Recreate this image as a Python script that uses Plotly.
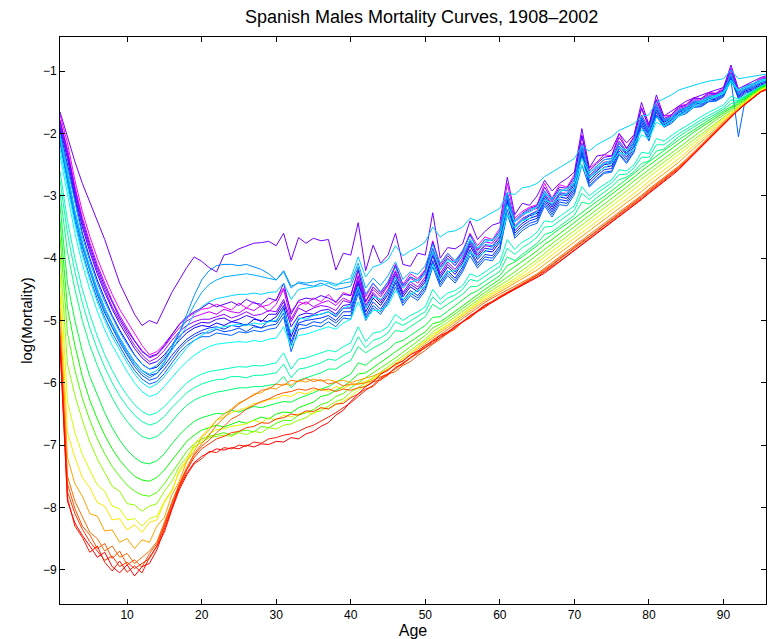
import colorsys
import plotly.graph_objects as go

# x position of each age group (age 0 plotted at 1, as in the original figure)
age_index = list(range(1, 97))
x_ticks = [10, 20, 30, 40, 50, 60, 70, 80, 90]
y_ticks = [-9, -8, -7, -6, -5, -4, -3, -2, -1]

years = [1908, 1912, 1915, 1918, 1920, 1922, 1926, 1930, 1932, 1934, 1937, 1939, 1942, 1944, 1946,
         1950, 1952, 1955, 1960, 1965, 1970, 1975, 1980, 1985, 1990, 1994, 1996, 1998, 2000, 2002]

m1908 = [-1.70, -2.15, -2.75, -3.25, -3.65, -4.00, -4.30, -4.58, -4.82, -5.02, -5.22, -5.40, -5.55, -5.50, -5.38, -5.22, -5.07, -4.96, -4.88, -4.82,
         -4.80, -4.74, -4.79, -4.83, -4.72, -4.80, -4.70, -4.78, -4.75, -4.66, -4.48, -4.86, -4.70, -4.74, -4.64, -4.70, -4.58, -4.72, -4.55, -4.60,
         -4.20, -4.62, -4.40, -4.55, -4.38, -4.10, -4.42, -4.25, -4.33, -4.18, -3.72, -4.10, -3.92, -4.06, -3.88, -3.60, -3.80, -3.66, -3.70, -3.52,
         -2.80, -3.36, -3.25, -3.18, -3.14, -2.80, -3.04, -2.82, -2.86, -2.66, -2.02, -2.56, -2.46, -2.34, -2.36, -2.00, -2.24, -2.04, -1.58, -1.86,
         -1.45, -1.72, -1.70, -1.56, -1.53, -1.42, -1.44, -1.34, -1.35, -1.26, -0.95, -1.32, -1.22, -1.20, -1.11, -1.09]
m1912 = [-1.78, -2.25, -2.85, -3.35, -3.75, -4.10, -4.40, -4.68, -4.92, -5.12, -5.32, -5.48, -5.60, -5.55, -5.42, -5.26, -5.12, -5.01, -4.94, -4.90,
         -4.86, -4.90, -4.82, -4.86, -4.88, -4.80, -4.84, -4.76, -4.86, -4.74, -4.50, -4.98, -4.76, -4.70, -4.78, -4.72, -4.68, -4.76, -4.64, -4.70,
         -4.28, -4.70, -4.50, -4.62, -4.44, -4.20, -4.48, -4.32, -4.40, -4.24, -3.85, -4.18, -4.00, -4.12, -3.94, -3.70, -3.88, -3.74, -3.76, -3.60,
         -2.95, -3.42, -3.32, -3.24, -3.20, -2.92, -3.10, -2.90, -2.92, -2.74, -2.15, -2.64, -2.52, -2.42, -2.40, -2.12, -2.28, -2.10, -1.70, -1.92,
         -1.52, -1.78, -1.72, -1.60, -1.56, -1.46, -1.46, -1.38, -1.37, -1.30, -1.02, -1.34, -1.25, -1.22, -1.14, -1.11]
m1915 = [-1.85, -2.35, -2.95, -3.45, -3.85, -4.20, -4.50, -4.78, -5.00, -5.20, -5.40, -5.55, -5.66, -5.60, -5.48, -5.32, -5.18, -5.08, -5.02, -4.98,
         -4.98, -4.94, -4.90, -4.96, -4.92, -4.86, -4.92, -4.90, -4.84, -4.86, -4.66, -5.02, -4.80, -4.86, -4.80, -4.76, -4.78, -4.84, -4.68, -4.72,
         -4.30, -4.76, -4.55, -4.68, -4.50, -4.22, -4.55, -4.38, -4.46, -4.30, -3.90, -4.24, -4.06, -4.18, -4.00, -3.72, -3.95, -3.80, -3.82, -3.66,
         -3.08, -3.48, -3.36, -3.30, -3.24, -2.96, -3.14, -2.95, -2.96, -2.78, -2.28, -2.68, -2.56, -2.46, -2.44, -2.16, -2.31, -2.14, -1.74, -1.96,
         -1.55, -1.80, -1.74, -1.62, -1.58, -1.48, -1.48, -1.40, -1.39, -1.32, -1.04, -1.36, -1.27, -1.24, -1.16, -1.13]
m1918 = [-1.65, -2.05, -2.45, -2.80, -3.10, -3.40, -3.70, -4.05, -4.40, -4.65, -4.90, -5.08, -5.00, -5.05, -4.80, -4.55, -4.35, -4.15, -3.98, -4.05,
         -4.15, -4.22, -3.95, -3.92, -3.85, -3.80, -3.76, -3.75, -3.73, -3.80, -3.60, -4.03, -3.67, -3.76, -3.68, -3.72, -3.70, -4.19, -3.92, -3.95,
         -3.43, -4.20, -3.79, -4.08, -3.95, -3.60, -4.10, -4.13, -3.92, -3.95, -3.27, -4.00, -3.83, -3.85, -3.77, -3.40, -3.70, -3.57, -3.47, -3.43,
         -2.70, -3.30, -3.12, -3.15, -3.00, -2.75, -2.92, -2.80, -2.72, -2.62, -1.92, -2.55, -2.36, -2.34, -2.26, -2.00, -2.15, -2.02, -1.50, -1.86,
         -1.38, -1.72, -1.64, -1.57, -1.48, -1.43, -1.38, -1.34, -1.30, -1.26, -0.90, -1.28, -1.22, -1.16, -1.10, -1.06]
m1920 = [-1.80, -2.30, -2.90, -3.40, -3.80, -4.15, -4.45, -4.72, -4.96, -5.16, -5.34, -5.50, -5.58, -5.54, -5.40, -5.22, -5.06, -4.94, -4.86, -4.80,
         -4.72, -4.78, -4.74, -4.70, -4.76, -4.66, -4.72, -4.74, -4.64, -4.68, -4.40, -4.90, -4.68, -4.64, -4.66, -4.60, -4.64, -4.70, -4.58, -4.60,
         -4.18, -4.70, -4.46, -4.58, -4.42, -4.12, -4.44, -4.30, -4.36, -4.20, -3.74, -4.14, -3.96, -4.08, -3.90, -3.62, -3.86, -3.70, -3.72, -3.56,
         -2.95, -3.40, -3.28, -3.20, -3.16, -2.86, -3.06, -2.86, -2.88, -2.70, -2.04, -2.60, -2.48, -2.38, -2.36, -2.06, -2.24, -2.06, -1.60, -1.90,
         -1.46, -1.76, -1.70, -1.58, -1.54, -1.44, -1.44, -1.36, -1.36, -1.29, -0.97, -1.33, -1.24, -1.21, -1.13, -1.10]
m1922 = [-1.90, -2.40, -3.00, -3.50, -3.90, -4.25, -4.55, -4.82, -5.05, -5.25, -5.45, -5.60, -5.70, -5.66, -5.55, -5.40, -5.25, -5.15, -5.08, -5.03,
         -5.04, -4.98, -4.96, -5.02, -4.98, -4.92, -4.96, -5.02, -4.90, -4.90, -4.70, -5.10, -4.92, -4.88, -4.90, -4.84, -4.82, -4.90, -4.76, -4.74,
         -4.36, -4.80, -4.58, -4.72, -4.54, -4.26, -4.58, -4.42, -4.50, -4.34, -3.90, -4.28, -4.10, -4.22, -4.04, -3.76, -3.98, -3.84, -3.86, -3.70,
         -3.00, -3.52, -3.40, -3.32, -3.28, -3.00, -3.18, -2.98, -3.00, -2.82, -2.22, -2.72, -2.60, -2.50, -2.48, -2.20, -2.34, -2.16, -1.74, -1.98,
         -1.58, -1.82, -1.76, -1.64, -1.60, -1.50, -1.50, -1.42, -1.41, -1.34, -1.06, -1.38, -1.29, -1.26, -1.18, -1.15]
m1926 = [-1.95, -2.50, -3.10, -3.60, -4.00, -4.35, -4.65, -4.92, -5.15, -5.35, -5.55, -5.70, -5.78, -5.75, -5.62, -5.46, -5.32, -5.20, -5.12, -5.08,
         -5.10, -5.04, -5.08, -5.02, -5.04, -5.08, -4.98, -5.00, -5.02, -4.94, -4.76, -5.26, -4.98, -4.94, -4.92, -4.90, -4.86, -4.94, -4.80, -4.80,
         -4.40, -4.86, -4.64, -4.76, -4.58, -4.30, -4.62, -4.46, -4.54, -4.38, -3.96, -4.32, -4.14, -4.26, -4.08, -3.80, -4.02, -3.88, -3.90, -3.74,
         -3.06, -3.56, -3.44, -3.36, -3.32, -3.04, -3.22, -3.02, -3.04, -2.86, -2.26, -2.76, -2.64, -2.54, -2.52, -2.24, -2.38, -2.20, -1.78, -2.02,
         -1.62, -1.84, -1.78, -1.66, -1.62, -1.52, -1.52, -1.44, -1.43, -1.36, -1.08, -1.40, -1.31, -1.28, -1.20, -1.17]
m1930 = [-2.05, -2.65, -3.25, -3.75, -4.15, -4.50, -4.80, -5.05, -5.28, -5.48, -5.66, -5.80, -5.88, -5.85, -5.72, -5.56, -5.42, -5.30, -5.22, -5.16,
         -5.12, -5.10, -5.14, -5.08, -5.10, -5.06, -5.08, -5.12, -5.00, -5.02, -4.80, -5.34, -5.04, -5.00, -4.98, -4.96, -4.92, -5.00, -4.86, -4.86,
         -4.46, -4.92, -4.70, -4.82, -4.64, -4.36, -4.68, -4.52, -4.60, -4.44, -4.04, -4.38, -4.20, -4.32, -4.14, -3.86, -4.08, -3.94, -3.96, -3.80,
         -3.12, -3.60, -3.48, -3.40, -3.36, -3.08, -3.26, -3.06, -3.08, -2.90, -2.30, -2.80, -2.68, -2.58, -2.56, -2.28, -2.42, -2.24, -1.82, -2.06,
         -1.66, -1.86, -1.80, -1.68, -1.64, -1.54, -1.54, -1.46, -1.45, -1.38, -1.10, -1.42, -1.33, -1.30, -1.22, -1.19]
m1932 = [-2.10, -2.72, -3.32, -3.82, -4.22, -4.58, -4.88, -5.12, -5.35, -5.55, -5.74, -5.88, -5.96, -5.92, -5.78, -5.62, -5.46, -5.34, -5.26, -5.20,
         -5.20, -5.14, -5.18, -5.16, -5.12, -5.18, -5.10, -5.12, -5.08, -5.06, -4.88, -5.40, -5.06, -5.08, -5.02, -5.04, -4.96, -5.04, -4.92, -4.92,
         -4.50, -4.96, -4.76, -4.86, -4.68, -4.40, -4.72, -4.56, -4.64, -4.48, -4.08, -4.42, -4.24, -4.36, -4.18, -3.90, -4.12, -3.98, -4.00, -3.84,
         -3.30, -3.64, -3.52, -3.44, -3.40, -3.12, -3.30, -3.10, -3.12, -2.94, -2.34, -2.84, -2.72, -2.62, -2.60, -2.32, -2.46, -2.28, -1.86, -2.10,
         -1.70, -1.88, -1.82, -1.70, -1.66, -1.56, -1.56, -1.48, -1.47, -1.40, -1.12, -1.44, -1.35, -1.31, -1.23, -1.20]
m1934 = [-2.15, -2.80, -3.40, -3.90, -4.30, -4.65, -4.95, -5.20, -5.42, -5.62, -5.80, -5.94, -6.02, -5.98, -5.85, -5.68, -5.52, -5.40, -5.32, -5.26,
         -5.26, -5.20, -5.22, -5.24, -5.18, -5.20, -5.16, -5.18, -5.14, -5.12, -4.94, -5.50, -5.14, -5.12, -5.08, -5.10, -5.02, -5.10, -4.96, -4.98,
         -4.56, -5.00, -4.80, -4.90, -4.72, -4.46, -4.76, -4.60, -4.68, -4.52, -4.14, -4.46, -4.28, -4.40, -4.22, -3.96, -4.16, -4.02, -4.04, -3.88,
         -3.22, -3.68, -3.56, -3.48, -3.44, -3.16, -3.34, -3.14, -3.16, -2.98, -2.50, -2.86, -2.74, -2.64, -2.62, -2.34, -2.48, -2.30, -1.88, -2.12,
         -1.72, -1.90, -1.84, -1.72, -1.68, -1.58, -1.57, -1.49, -1.48, -1.41, -1.14, -2.05, -1.40, -1.32, -1.25, -1.21]
m1937 = [-2.10, -2.70, -3.30, -3.80, -4.20, -4.55, -4.85, -5.10, -5.32, -5.52, -5.70, -5.84, -5.92, -5.85, -5.68, -5.45, -5.20, -4.90, -4.60, -4.35,
         -4.20, -4.12, -4.10, -4.10, -4.12, -4.10, -4.14, -4.18, -4.25, -4.35, -4.20, -4.45, -4.40, -4.42, -4.45, -4.40, -4.45, -4.50, -4.48, -4.45,
         -4.14, -4.58, -4.40, -4.54, -4.38, -4.14, -4.44, -4.30, -4.36, -4.22, -3.84, -4.18, -4.00, -4.12, -3.96, -3.72, -3.92, -3.78, -3.80, -3.64,
         -3.02, -3.50, -3.38, -3.30, -3.26, -2.98, -3.16, -2.96, -2.98, -2.80, -2.24, -2.70, -2.58, -2.48, -2.46, -2.20, -2.32, -2.14, -1.76, -1.98,
         -1.58, -1.80, -1.76, -1.64, -1.60, -1.50, -1.50, -1.42, -1.41, -1.34, -1.06, -1.38, -1.29, -1.26, -1.18, -1.15]
m1939 = [-2.00, -2.55, -3.15, -3.65, -4.05, -4.40, -4.70, -4.95, -5.18, -5.38, -5.56, -5.70, -5.78, -5.72, -5.58, -5.40, -5.20, -4.98, -4.75, -4.55,
         -4.42, -4.35, -4.30, -4.28, -4.26, -4.25, -4.27, -4.30, -4.32, -4.35, -4.22, -4.48, -4.38, -4.40, -4.38, -4.36, -4.38, -4.42, -4.40, -4.38,
         -4.08, -4.48, -4.32, -4.44, -4.28, -4.06, -4.34, -4.22, -4.26, -4.12, -3.78, -4.08, -3.92, -4.04, -3.88, -3.64, -3.84, -3.70, -3.72, -3.56,
         -2.96, -3.42, -3.30, -3.22, -3.18, -2.92, -3.08, -2.90, -2.92, -2.74, -2.18, -2.64, -2.52, -2.42, -2.40, -2.14, -2.28, -2.10, -1.72, -1.94,
         -1.54, -1.78, -1.74, -1.62, -1.58, -1.48, -1.48, -1.40, -1.39, -1.32, -1.04, -1.36, -1.27, -1.24, -1.16, -1.13]
m1942 = [-2.05, -2.65, -3.25, -3.75, -4.15, -4.50, -4.80, -5.05, -5.28, -5.48, -5.66, -5.80, -5.86, -5.80, -5.66, -5.48, -5.28, -5.08, -4.90, -4.78,
         -4.70, -4.65, -4.62, -4.60, -4.58, -4.58, -4.56, -4.58, -4.55, -4.54, -4.40, -4.66, -4.50, -4.48, -4.46, -4.44, -4.40, -4.45, -4.36, -4.32,
         -3.98, -4.30, -4.14, -4.10, -4.02, -3.80, -3.96, -3.88, -3.82, -3.74, -3.50, -3.66, -3.58, -3.56, -3.50, -3.36, -3.40, -3.33, -3.26, -3.20,
         -2.95, -2.98, -2.87, -2.85, -2.80, -2.69, -2.62, -2.55, -2.48, -2.40, -2.20, -2.28, -2.18, -2.12, -2.05, -1.95, -1.90, -1.84, -1.72, -1.70,
         -1.50, -1.44, -1.38, -1.30, -1.26, -1.22, -1.19, -1.16, -1.14, -1.12, -0.98, -1.12, -1.10, -1.08, -1.06, -1.04]
m1944 = [-2.25, -2.85, -3.45, -3.95, -4.35, -4.70, -5.00, -5.26, -5.48, -5.68, -5.86, -6.00, -6.08, -6.02, -5.90, -5.74, -5.58, -5.44, -5.32, -5.24,
         -5.16, -5.12, -5.10, -5.08, -5.06, -5.08, -5.04, -5.06, -5.02, -5.00, -4.84, -5.20, -4.96, -4.98, -4.92, -4.90, -4.86, -4.92, -4.80, -4.76,
         -4.46, -4.80, -4.62, -4.66, -4.56, -4.30, -4.48, -4.38, -4.36, -4.26, -3.90, -4.18, -4.04, -4.06, -3.96, -3.70, -3.84, -3.74, -3.70, -3.62,
         -3.14, -3.42, -3.30, -3.26, -3.18, -2.96, -3.04, -2.94, -2.88, -2.80, -2.40, -2.64, -2.54, -2.48, -2.42, -2.22, -2.28, -2.18, -1.94, -2.02,
         -1.74, -1.84, -1.76, -1.68, -1.60, -1.53, -1.48, -1.43, -1.38, -1.34, -1.14, -1.30, -1.24, -1.19, -1.14, -1.11]
m1946 = [-2.35, -3.00, -3.60, -4.10, -4.50, -4.85, -5.15, -5.40, -5.62, -5.82, -6.00, -6.14, -6.22, -6.18, -6.06, -5.92, -5.78, -5.66, -5.56, -5.48,
         -5.42, -5.38, -5.36, -5.35, -5.34, -5.35, -5.32, -5.34, -5.30, -5.28, -5.10, -5.42, -5.24, -5.22, -5.18, -5.14, -5.10, -5.14, -5.04, -4.98,
         -4.70, -4.98, -4.84, -4.84, -4.76, -4.52, -4.66, -4.58, -4.52, -4.44, -4.10, -4.34, -4.22, -4.20, -4.12, -3.90, -3.98, -3.90, -3.82, -3.74,
         -3.30, -3.52, -3.40, -3.36, -3.26, -3.06, -3.12, -3.03, -2.96, -2.88, -2.50, -2.72, -2.62, -2.55, -2.48, -2.30, -2.34, -2.25, -2.02, -2.08,
         -1.82, -1.88, -1.80, -1.72, -1.64, -1.57, -1.51, -1.46, -1.41, -1.36, -1.18, -1.32, -1.26, -1.21, -1.16, -1.12]
m1950 = [-2.60, -3.40, -4.00, -4.50, -4.90, -5.25, -5.55, -5.80, -6.02, -6.20, -6.35, -6.46, -6.52, -6.48, -6.38, -6.25, -6.12, -6.00, -5.92, -5.86,
         -5.82, -5.80, -5.78, -5.76, -5.74, -5.75, -5.72, -5.73, -5.70, -5.68, -5.52, -5.78, -5.62, -5.60, -5.56, -5.52, -5.48, -5.50, -5.42, -5.36,
         -5.10, -5.34, -5.20, -5.18, -5.10, -4.90, -5.00, -4.92, -4.86, -4.78, -4.50, -4.66, -4.56, -4.52, -4.44, -4.25, -4.30, -4.22, -4.14, -4.06,
         -3.70, -3.86, -3.74, -3.68, -3.58, -3.40, -3.42, -3.33, -3.25, -3.16, -2.85, -3.00, -2.90, -2.82, -2.74, -2.58, -2.60, -2.50, -2.30, -2.32,
         -2.08, -2.12, -2.03, -1.95, -1.88, -1.80, -1.73, -1.66, -1.60, -1.54, -1.40, -1.45, -1.38, -1.31, -1.24, -1.19]
m1952 = [-2.75, -3.60, -4.22, -4.72, -5.12, -5.46, -5.75, -6.00, -6.21, -6.38, -6.52, -6.62, -6.68, -6.64, -6.54, -6.40, -6.28, -6.16, -6.08, -6.02,
         -5.98, -5.95, -5.94, -5.90, -5.90, -5.92, -5.88, -5.88, -5.86, -5.84, -5.70, -5.92, -5.78, -5.76, -5.72, -5.68, -5.62, -5.64, -5.56, -5.50,
         -5.26, -5.44, -5.32, -5.28, -5.20, -5.02, -5.08, -5.01, -4.94, -4.86, -4.62, -4.74, -4.64, -4.59, -4.50, -4.34, -4.37, -4.29, -4.21, -4.13,
         -3.84, -3.94, -3.83, -3.76, -3.66, -3.50, -3.49, -3.40, -3.32, -3.23, -2.96, -3.06, -2.96, -2.88, -2.79, -2.66, -2.65, -2.55, -2.38, -2.38,
         -2.18, -2.18, -2.09, -2.00, -1.93, -1.85, -1.78, -1.71, -1.64, -1.58, -1.46, -1.47, -1.40, -1.32, -1.25, -1.20]
m1955 = [-2.95, -3.90, -4.50, -5.00, -5.40, -5.72, -6.00, -6.24, -6.45, -6.62, -6.76, -6.86, -6.90, -6.86, -6.76, -6.62, -6.48, -6.36, -6.28, -6.22,
         -6.18, -6.15, -6.13, -6.10, -6.08, -6.08, -6.06, -6.06, -6.04, -6.02, -5.90, -6.08, -5.96, -5.92, -5.88, -5.84, -5.78, -5.78, -5.70, -5.64,
         -5.42, -5.52, -5.44, -5.38, -5.30, -5.16, -5.18, -5.10, -5.02, -4.94, -4.74, -4.82, -4.74, -4.66, -4.58, -4.46, -4.45, -4.37, -4.29, -4.21,
         -3.98, -4.04, -3.94, -3.85, -3.76, -3.62, -3.58, -3.49, -3.40, -3.31, -3.10, -3.13, -3.03, -2.94, -2.85, -2.74, -2.70, -2.61, -2.48, -2.44,
         -2.28, -2.25, -2.15, -2.05, -1.97, -1.89, -1.82, -1.75, -1.68, -1.61, -1.52, -1.48, -1.41, -1.33, -1.25, -1.20]
m1960 = [-3.15, -4.40, -5.00, -5.50, -5.90, -6.20, -6.48, -6.72, -6.92, -7.08, -7.20, -7.28, -7.30, -7.25, -7.14, -6.98, -6.84, -6.72, -6.62, -6.56,
         -6.52, -6.49, -6.50, -6.44, -6.47, -6.43, -6.38, -6.40, -6.36, -6.33, -6.30, -6.31, -6.25, -6.21, -6.16, -6.10, -6.06, -5.99, -5.93, -5.86,
         -5.68, -5.72, -5.62, -5.55, -5.47, -5.36, -5.32, -5.24, -5.16, -5.08, -4.95, -4.94, -4.85, -4.76, -4.68, -4.58, -4.52, -4.44, -4.36, -4.28,
         -4.12, -4.06, -3.98, -3.89, -3.80, -3.70, -3.62, -3.53, -3.45, -3.36, -3.26, -3.18, -3.09, -3.01, -2.92, -2.83, -2.74, -2.64, -2.54, -2.45,
         -2.36, -2.28, -2.19, -2.10, -2.02, -1.94, -1.86, -1.78, -1.71, -1.64, -1.57, -1.50, -1.42, -1.34, -1.26, -1.21]
m1965 = [-3.40, -4.80, -5.40, -5.90, -6.28, -6.58, -6.84, -7.06, -7.24, -7.38, -7.50, -7.56, -7.58, -7.52, -7.40, -7.24, -7.08, -6.94, -6.84, -6.76,
         -6.72, -6.68, -6.71, -6.66, -6.62, -6.65, -6.60, -6.55, -6.58, -6.50, -6.47, -6.48, -6.40, -6.35, -6.31, -6.22, -6.19, -6.12, -6.06, -5.97,
         -5.86, -5.84, -5.76, -5.68, -5.59, -5.50, -5.42, -5.34, -5.26, -5.18, -5.05, -5.02, -4.94, -4.85, -4.76, -4.67, -4.58, -4.50, -4.42, -4.34,
         -4.22, -4.14, -4.06, -3.97, -3.88, -3.78, -3.70, -3.61, -3.52, -3.43, -3.34, -3.25, -3.16, -3.07, -2.98, -2.89, -2.80, -2.70, -2.60, -2.51,
         -2.42, -2.33, -2.25, -2.16, -2.07, -1.98, -1.90, -1.82, -1.74, -1.67, -1.59, -1.52, -1.44, -1.36, -1.27, -1.22]
m1970 = [-3.65, -5.20, -5.80, -6.25, -6.60, -6.90, -7.14, -7.34, -7.50, -7.64, -7.74, -7.80, -7.82, -7.76, -7.62, -7.44, -7.26, -7.10, -6.98, -6.90,
         -6.86, -6.83, -6.80, -6.84, -6.78, -6.76, -6.79, -6.70, -6.72, -6.65, -6.60, -6.61, -6.52, -6.48, -6.43, -6.35, -6.31, -6.22, -6.17, -6.08,
         -6.00, -5.93, -5.85, -5.77, -5.68, -5.60, -5.51, -5.42, -5.33, -5.24, -5.12, -5.06, -4.98, -4.90, -4.81, -4.72, -4.63, -4.55, -4.47, -4.39,
         -4.30, -4.22, -4.13, -4.04, -3.94, -3.85, -3.76, -3.67, -3.58, -3.49, -3.40, -3.31, -3.22, -3.13, -3.04, -2.95, -2.86, -2.76, -2.67, -2.58,
         -2.49, -2.40, -2.31, -2.22, -2.13, -2.04, -1.95, -1.87, -1.78, -1.70, -1.62, -1.54, -1.45, -1.37, -1.28, -1.23]
m1975 = [-3.95, -5.70, -6.20, -6.60, -6.95, -7.22, -7.44, -7.66, -7.74, -7.94, -7.96, -8.06, -7.98, -7.94, -7.74, -7.58, -7.34, -7.20, -7.02, -6.96,
         -6.88, -6.86, -6.84, -6.86, -6.80, -6.83, -6.78, -6.80, -6.72, -6.74, -6.68, -6.66, -6.60, -6.56, -6.48, -6.45, -6.38, -6.30, -6.26, -6.15,
         -6.08, -6.00, -5.92, -5.83, -5.74, -5.66, -5.57, -5.48, -5.39, -5.30, -5.18, -5.11, -5.03, -4.94, -4.85, -4.76, -4.67, -4.59, -4.51, -4.44,
         -4.36, -4.28, -4.20, -4.11, -4.02, -3.92, -3.83, -3.74, -3.65, -3.56, -3.47, -3.38, -3.28, -3.19, -3.10, -3.01, -2.92, -2.83, -2.73, -2.64,
         -2.55, -2.46, -2.37, -2.28, -2.19, -2.10, -2.01, -1.91, -1.82, -1.73, -1.64, -1.55, -1.46, -1.37, -1.29, -1.24]
m1980 = [-4.25, -6.30, -6.80, -7.15, -7.40, -7.64, -7.74, -7.98, -8.02, -8.20, -8.18, -8.30, -8.18, -8.14, -7.90, -7.72, -7.44, -7.26, -7.04, -6.94,
         -6.82, -6.75, -6.74, -6.70, -6.68, -6.66, -6.60, -6.64, -6.56, -6.60, -6.52, -6.55, -6.50, -6.47, -6.50, -6.40, -6.42, -6.35, -6.30, -6.22,
         -6.12, -6.04, -5.96, -5.87, -5.78, -5.70, -5.61, -5.52, -5.43, -5.33, -5.22, -5.15, -5.07, -4.98, -4.89, -4.79, -4.70, -4.62, -4.55, -4.48,
         -4.40, -4.33, -4.25, -4.16, -4.07, -3.98, -3.89, -3.80, -3.71, -3.62, -3.53, -3.44, -3.35, -3.26, -3.17, -3.08, -2.99, -2.89, -2.80, -2.70,
         -2.61, -2.52, -2.43, -2.34, -2.25, -2.15, -2.05, -1.95, -1.85, -1.75, -1.66, -1.57, -1.47, -1.38, -1.30, -1.25]
m1985 = [-4.55, -6.80, -7.20, -7.52, -7.68, -7.92, -7.98, -8.20, -8.18, -8.36, -8.28, -8.40, -8.24, -8.20, -7.92, -7.74, -7.40, -7.24, -6.98, -6.86,
         -6.72, -6.60, -6.55, -6.48, -6.44, -6.40, -6.33, -6.32, -6.27, -6.25, -6.20, -6.22, -6.15, -6.18, -6.12, -6.10, -6.14, -6.06, -6.09, -6.03,
         -6.02, -5.98, -5.93, -5.86, -5.78, -5.70, -5.61, -5.52, -5.43, -5.34, -5.24, -5.16, -5.08, -4.99, -4.91, -4.82, -4.73, -4.65, -4.58, -4.51,
         -4.44, -4.37, -4.30, -4.22, -4.13, -4.04, -3.95, -3.86, -3.77, -3.68, -3.60, -3.51, -3.42, -3.33, -3.24, -3.15, -3.06, -2.96, -2.87, -2.77,
         -2.68, -2.59, -2.49, -2.40, -2.30, -2.20, -2.09, -1.99, -1.88, -1.78, -1.68, -1.58, -1.48, -1.39, -1.31, -1.26]
m1990 = [-4.80, -7.20, -7.62, -7.82, -8.10, -8.14, -8.38, -8.36, -8.56, -8.50, -8.66, -8.52, -8.56, -8.30, -8.16, -7.80, -7.58, -7.26, -7.10, -6.88,
         -6.76, -6.60, -6.50, -6.42, -6.32, -6.27, -6.18, -6.16, -6.08, -6.10, -6.02, -6.04, -5.96, -5.99, -5.94, -5.97, -5.95, -5.98, -5.96, -6.00,
         -5.96, -5.93, -5.89, -5.84, -5.78, -5.72, -5.64, -5.55, -5.46, -5.37, -5.27, -5.19, -5.11, -5.02, -4.94, -4.85, -4.76, -4.68, -4.61, -4.54,
         -4.47, -4.41, -4.34, -4.27, -4.19, -4.10, -4.01, -3.92, -3.83, -3.74, -3.66, -3.57, -3.48, -3.39, -3.30, -3.21, -3.12, -3.02, -2.93, -2.83,
         -2.74, -2.65, -2.56, -2.46, -2.35, -2.24, -2.13, -2.02, -1.91, -1.80, -1.70, -1.60, -1.50, -1.41, -1.32, -1.27]
m1994 = [-5.10, -7.50, -7.90, -8.15, -8.40, -8.50, -8.70, -8.62, -8.80, -8.74, -8.90, -8.80, -8.70, -8.55, -8.25, -7.95, -7.62, -7.36, -7.14, -6.98,
         -6.84, -6.68, -6.56, -6.44, -6.34, -6.26, -6.20, -6.12, -6.10, -6.02, -6.04, -5.96, -5.98, -5.93, -5.98, -5.95, -6.02, -5.99, -6.05, -6.02,
         -6.02, -6.00, -5.96, -5.91, -5.85, -5.78, -5.70, -5.61, -5.52, -5.42, -5.31, -5.23, -5.15, -5.06, -4.97, -4.88, -4.79, -4.71, -4.64, -4.57,
         -4.51, -4.45, -4.39, -4.32, -4.25, -4.16, -4.07, -3.98, -3.89, -3.80, -3.72, -3.63, -3.54, -3.45, -3.36, -3.27, -3.18, -3.08, -2.99, -2.89,
         -2.80, -2.71, -2.61, -2.52, -2.41, -2.30, -2.18, -2.06, -1.94, -1.83, -1.72, -1.61, -1.51, -1.42, -1.33, -1.28]
m1996 = [-5.20, -7.62, -8.02, -8.30, -8.44, -8.66, -8.58, -8.82, -8.70, -8.92, -8.84, -8.96, -8.74, -8.58, -8.28, -7.92, -7.64, -7.38, -7.16, -7.02,
         -6.92, -6.80, -6.70, -6.58, -6.52, -6.42, -6.36, -6.30, -6.26, -6.20, -6.16, -6.14, -6.10, -6.12, -6.08, -6.12, -6.10, -6.14, -6.10, -6.12,
         -6.08, -6.06, -5.98, -5.96, -5.86, -5.82, -5.72, -5.66, -5.56, -5.48, -5.38, -5.30, -5.20, -5.14, -5.02, -4.96, -4.85, -4.78, -4.70, -4.62,
         -4.55, -4.48, -4.42, -4.34, -4.27, -4.18, -4.10, -4.00, -3.92, -3.82, -3.74, -3.65, -3.56, -3.47, -3.38, -3.29, -3.20, -3.10, -3.01, -2.91,
         -2.82, -2.72, -2.63, -2.54, -2.43, -2.31, -2.19, -2.07, -1.95, -1.84, -1.72, -1.62, -1.52, -1.42, -1.33, -1.28]
m1998 = [-5.25, -7.75, -8.10, -8.35, -8.55, -8.70, -8.85, -8.78, -8.95, -8.88, -8.98, -8.90, -8.82, -8.62, -8.30, -7.98, -7.66, -7.40, -7.20, -7.06,
         -6.98, -6.90, -6.86, -6.80, -6.78, -6.72, -6.70, -6.64, -6.65, -6.58, -6.56, -6.50, -6.52, -6.45, -6.46, -6.40, -6.42, -6.34, -6.33, -6.24,
         -6.18, -6.10, -6.06, -5.94, -5.88, -5.75, -5.70, -5.59, -5.53, -5.43, -5.37, -5.27, -5.21, -5.10, -5.03, -4.93, -4.84, -4.75, -4.69, -4.61,
         -4.55, -4.49, -4.42, -4.35, -4.28, -4.20, -4.11, -4.02, -3.93, -3.84, -3.76, -3.67, -3.58, -3.49, -3.40, -3.31, -3.22, -3.12, -3.03, -2.93,
         -2.84, -2.74, -2.64, -2.55, -2.44, -2.32, -2.20, -2.08, -1.96, -1.84, -1.73, -1.62, -1.52, -1.43, -1.33, -1.28]
m2000 = [-5.35, -7.85, -8.30, -8.48, -8.72, -8.62, -8.88, -9.02, -8.86, -9.04, -8.94, -9.05, -8.80, -8.62, -8.40, -8.04, -7.72, -7.48, -7.30, -7.22,
         -7.10, -7.12, -7.04, -7.06, -7.00, -7.02, -6.95, -6.97, -6.90, -6.88, -6.84, -6.82, -6.78, -6.72, -6.68, -6.62, -6.55, -6.48, -6.40, -6.32,
         -6.22, -6.12, -6.04, -5.92, -5.86, -5.76, -5.68, -5.60, -5.50, -5.44, -5.34, -5.27, -5.18, -5.12, -5.02, -4.95, -4.86, -4.79, -4.70, -4.64,
         -4.57, -4.50, -4.44, -4.37, -4.30, -4.22, -4.14, -4.05, -3.96, -3.87, -3.78, -3.69, -3.60, -3.51, -3.42, -3.33, -3.24, -3.14, -3.05, -2.95,
         -2.86, -2.76, -2.66, -2.57, -2.45, -2.33, -2.21, -2.09, -1.97, -1.85, -1.74, -1.62, -1.52, -1.42, -1.33, -1.28]
m2002 = [-5.40, -7.90, -8.25, -8.45, -8.62, -8.80, -8.72, -8.95, -9.05, -8.92, -9.10, -8.95, -8.90, -8.68, -8.35, -8.00, -7.68, -7.45, -7.28, -7.18,
         -7.12, -7.06, -7.08, -7.04, -7.06, -7.00, -7.03, -6.98, -6.99, -6.94, -6.95, -6.88, -6.90, -6.82, -6.78, -6.70, -6.64, -6.52, -6.44, -6.30,
         -6.18, -6.06, -5.99, -5.86, -5.80, -5.70, -5.65, -5.55, -5.49, -5.40, -5.33, -5.24, -5.19, -5.09, -5.02, -4.92, -4.85, -4.76, -4.71, -4.63,
         -4.56, -4.50, -4.43, -4.37, -4.31, -4.24, -4.15, -4.06, -3.97, -3.88, -3.79, -3.70, -3.61, -3.52, -3.43, -3.34, -3.25, -3.15, -3.06, -2.96,
         -2.87, -2.77, -2.68, -2.58, -2.46, -2.34, -2.22, -2.10, -1.98, -1.86, -1.74, -1.62, -1.52, -1.42, -1.33, -1.28]

curves = [m1908, m1912, m1915, m1918, m1920, m1922, m1926, m1930, m1932, m1934, m1937, m1939, m1942, m1944, m1946,
          m1950, m1952, m1955, m1960, m1965, m1970, m1975, m1980, m1985, m1990, m1994, m1996, m1998, m2000, m2002]

for yr, vals in zip(years, curves):
    assert len(vals) == len(age_index), (yr, len(vals))

fig = go.Figure()
for yr, vals in zip(years, curves):
    h = 0.83 * (2002 - yr) / 94.0
    r, g, b = colorsys.hsv_to_rgb(h, 1.0, 1.0)
    col = f"rgb({round(r*255)},{round(g*255)},{round(b*255)})"
    fig.add_trace(go.Scatter(x=age_index, y=vals, mode="lines", name=str(yr),
                             line=dict(color=col, width=1), showlegend=False,
                             hoverinfo="skip"))

FONT = "Liberation Sans, Arial, Helvetica, sans-serif"
fig.update_layout(
    width=768, height=639,
    margin=dict(l=60, r=2, t=37, b=35),
    paper_bgcolor="white", plot_bgcolor="white",
    font=dict(family=FONT, size=12, color="black"),
    title=dict(text="Spanish Males Mortality Curves, 1908\u20132002",
               x=0.549, xanchor="center", y=1 - 17 / 639, yanchor="middle",
               font=dict(family=FONT, size=18, color="black")),
)
fig.update_xaxes(range=[1, 95.7], tickvals=x_ticks, ticks="inside", ticklen=5,
                 tickcolor="black", mirror="ticks", showline=True, linecolor="black",
                 linewidth=1, showgrid=False, zeroline=False,
                 title=dict(text="Age", font=dict(family=FONT, size=16), standoff=2))
fig.update_yaxes(range=[-9.55, -0.45], tickvals=y_ticks, ticks="inside", ticklen=5,
                 tickcolor="black", mirror="ticks", showline=True, linecolor="black",
                 linewidth=1, showgrid=False, zeroline=False,
                 title=dict(text="log(Mortality)", font=dict(family=FONT, size=15), standoff=6))

fig.write_html("out.html")
